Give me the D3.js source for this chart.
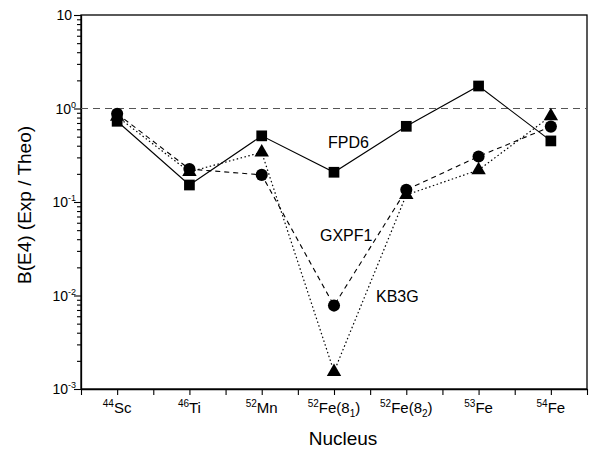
<!DOCTYPE html>
<html>
<head>
<meta charset="utf-8">
<script src="https://cdn.jsdelivr.net/npm/d3@7"></script>
<style>
  body { margin: 0; background: #fff; }
  text { font-family: Arial, "Liberation Sans", sans-serif; fill: #000; }
</style>
</head>
<body>
<div id="content"></div>
<script>
// Nuclei along the x axis. Leading digits become a superscript, "_n" a subscript.
var categories = ['44Sc', '46Ti', '52Mn', '52Fe(8_1)', '52Fe(8_2)', '53Fe', '54Fe'];

// B(E4) ratio Exp / Theo for each interaction
var fpd6  = [0.73, 0.152, 0.51, 0.208, 0.645, 1.74, 0.45];
var gxpf1 = [0.88, 0.225, 0.195, 0.0078, 0.135, 0.307, 0.64];
var kb3g  = [0.82, 0.21, 0.34, 0.00153, 0.119, 0.22, 0.83];

var yDecades = [-3, -2, -1, 0, 1];

var width = 595, height = 449;
var plot = { left: 81, right: 587, top: 15, bottom: 389 };

var svg = d3.select('#content').append('svg')
    .attr('width', width)
    .attr('height', height);

var x = d3.scaleLinear().domain([0, categories.length]).range([plot.left, plot.right]);
var y = d3.scaleLog().domain([1e-3, 10]).range([plot.bottom, plot.top]);

function xPos(i) { return x(i + 0.5); }

// frame
svg.append('rect')
    .attr('x', plot.left).attr('y', plot.top)
    .attr('width', plot.right - plot.left).attr('height', plot.bottom - plot.top)
    .attr('fill', 'none').attr('stroke', '#000').attr('stroke-width', 1.3);

// x axis: ticks at every category and half way between
var xAxis = svg.append('g')
    .attr('transform', 'translate(0,' + plot.bottom + ')')
    .call(d3.axisBottom(x).tickValues(d3.range(0, categories.length + 0.01, 0.5))
        .tickSize(6).tickSizeOuter(0).tickFormat(''));
xAxis.select('.domain').attr('stroke-width', 1.3);
xAxis.selectAll('.tick line').attr('stroke-width', 1.1);

categories.forEach(function(c, i) {
    var m = c.match(/^(\d+)(.*)$/);
    var t = svg.append('text')
        .attr('x', xPos(i)).attr('y', 413)
        .attr('text-anchor', 'middle')
        .style('font-size', '15px');
    t.append('tspan').attr('dy', -6).style('font-size', '10px').text(m[1]);
    var rest = m[2].split('_');
    t.append('tspan').attr('dy', 6).text(rest[0]);
    if (rest.length > 1) {
        t.append('tspan').attr('dy', 4).style('font-size', '10px').text(rest[1].charAt(0));
        t.append('tspan').attr('dy', -4).text(rest[1].slice(1));
    }
});

// y axis: minor ticks 2..9 in each decade, major ticks at the decades
var minor = [];
yDecades.slice(0, -1).forEach(function(e) {
    for (var k = 2; k < 10; k++) minor.push(k * Math.pow(10, e));
});
var yMinor = svg.append('g')
    .attr('transform', 'translate(' + plot.left + ',0)')
    .call(d3.axisLeft(y).tickValues(minor).tickSize(4).tickSizeOuter(0).tickFormat(''));
yMinor.selectAll('.tick line').attr('stroke-width', 1.1);

var yMajor = svg.append('g')
    .attr('transform', 'translate(' + plot.left + ',0)')
    .call(d3.axisLeft(y).tickValues(yDecades.map(function(e) { return Math.pow(10, e); }))
        .tickSize(7).tickSizeOuter(0).tickFormat(''));
yMajor.select('.domain').attr('stroke-width', 1.3);
yMajor.selectAll('.tick line').attr('stroke-width', 1.1);

yDecades.forEach(function(e) {
    var t = svg.append('text')
        .attr('x', e === 1 ? 72 : 76)
        .attr('y', y(Math.pow(10, e)) + 5)
        .attr('text-anchor', 'end')
        .style('font-size', '14px');
    t.append('tspan').text('10');
    if (e !== 1) t.append('tspan').attr('dy', -6).style('font-size', '9px').text(e);
});

// axis titles
svg.append('text')
    .attr('x', (plot.left + plot.right) / 2 + 9).attr('y', 445)
    .attr('text-anchor', 'middle')
    .style('font-size', '19px')
    .text('Nucleus');

svg.append('text')
    .attr('transform', 'translate(31,205) rotate(-90)')
    .attr('text-anchor', 'middle')
    .style('font-size', '19px')
    .text('B(E4) (Exp / Theo)');

// reference line at ratio 1
svg.append('line')
    .attr('x1', plot.left).attr('x2', plot.right)
    .attr('y1', y(1)).attr('y2', y(1))
    .attr('stroke', '#555').attr('stroke-width', 1.2)
    .attr('stroke-dasharray', '7,5');

var line = d3.line()
    .x(function(d, i) { return xPos(i); })
    .y(function(d) { return y(d); });

svg.append('path').datum(fpd6).attr('d', line)
    .attr('fill', 'none').attr('stroke', '#000').attr('stroke-width', 1.1);
svg.append('path').datum(gxpf1).attr('d', line)
    .attr('fill', 'none').attr('stroke', '#000').attr('stroke-width', 1.1)
    .attr('stroke-dasharray', '5,4');
svg.append('path').datum(kb3g).attr('d', line)
    .attr('fill', 'none').attr('stroke', '#000').attr('stroke-width', 1.2)
    .attr('stroke-dasharray', '1.5,2.5');

// markers: squares, then triangles, then circles on top
svg.selectAll('.sq').data(fpd6).enter().append('path')
    .attr('class', 'sq')
    .attr('transform', function(d, i) { return 'translate(' + xPos(i) + ',' + y(d) + ')'; })
    .attr('d', d3.symbol().type(d3.symbolSquare).size(115));

svg.selectAll('.tri').data(kb3g).enter().append('path')
    .attr('class', 'tri')
    .attr('transform', function(d, i) { return 'translate(' + xPos(i) + ',' + y(d) + ')'; })
    .attr('d', d3.symbol().type(d3.symbolTriangle).size(90));

svg.selectAll('.circ').data(gxpf1).enter().append('path')
    .attr('class', 'circ')
    .attr('transform', function(d, i) { return 'translate(' + xPos(i) + ',' + y(d) + ')'; })
    .attr('d', d3.symbol().type(d3.symbolCircle).size(115));

// series labels
svg.append('text').attr('x', 328).attr('y', 148).style('font-size', '16px').text('FPD6');
svg.append('text').attr('x', 320).attr('y', 241).style('font-size', '16px').text('GXPF1');
svg.append('text').attr('x', 376).attr('y', 302).style('font-size', '16px').text('KB3G');
</script>
</body>
</html>
